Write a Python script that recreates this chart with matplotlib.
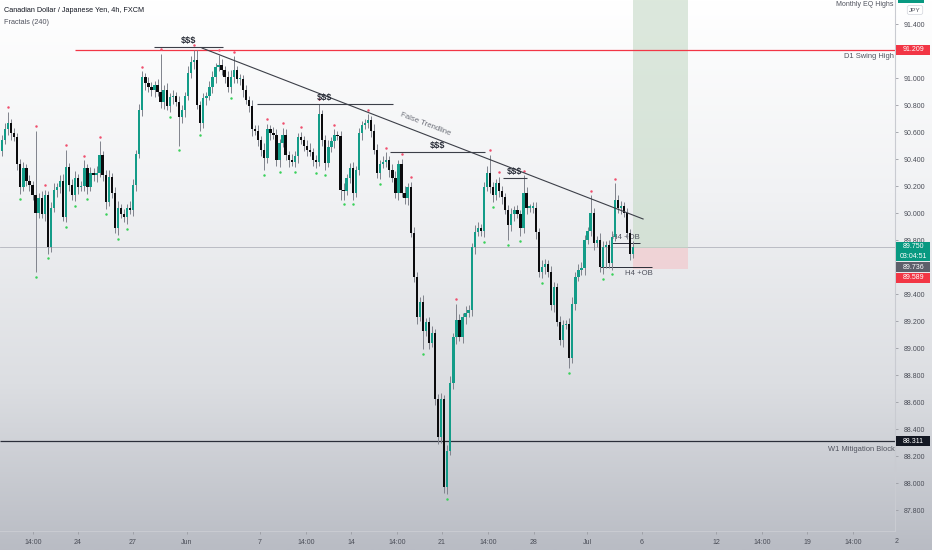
import numpy as np
import matplotlib
matplotlib.use("Agg")
import matplotlib.pyplot as plt
from matplotlib.colors import LinearSegmentedColormap
from matplotlib.patches import Rectangle
from matplotlib.transforms import blended_transform_factory

# ---------------- data (CAD/JPY 4h) ----------------
first_open = 90.46
close = [
    90.54, 90.62, 90.67, 90.59, 90.56, 90.36, 90.19, 90.33, 90.24, 90.21,
    90.13, 90.00, 90.11, 89.99, 90.13, 89.75, 90.04, 90.17, 90.19, 90.24,
    89.97, 90.34, 90.21, 90.13, 90.26, 90.19, 90.20, 90.33, 90.19, 90.30,
    90.28, 90.30, 90.43, 90.28, 90.08, 90.27, 90.15, 89.89, 90.04, 89.99,
    89.97, 90.04, 90.02, 90.21, 90.44, 90.76, 91.01, 90.96, 90.93, 90.91,
    90.95, 90.90, 90.82, 90.91, 90.79, 90.86, 90.87, 90.82, 90.71, 90.76,
    90.87, 91.04, 91.12, 91.13, 90.80, 90.67, 90.85, 90.87, 90.93, 91.01,
    91.08, 91.10, 91.06, 91.01, 90.93, 91.01, 91.06, 90.99, 90.99, 90.91,
    90.84, 90.79, 90.62, 90.61, 90.54, 90.47, 90.41, 90.62, 90.59, 90.58,
    90.39, 90.52, 90.58, 90.43, 90.39, 90.38, 90.42, 90.56, 90.54, 90.50,
    90.47, 90.45, 90.39, 90.38, 90.73, 90.54, 90.37, 90.49, 90.53, 90.58,
    90.57, 90.17, 90.16, 90.26, 90.33, 90.15, 90.32, 90.59, 90.65, 90.67,
    90.69, 90.61, 90.47, 90.30, 90.36, 90.38, 90.39, 90.32, 90.26, 90.15,
    90.36, 90.15, 90.11, 90.19, 89.85, 89.53, 89.23, 89.34, 89.13, 89.19,
    89.04, 89.11, 88.62, 88.34, 88.62, 87.97, 88.24, 88.74, 89.08, 89.21,
    89.08, 89.23, 89.26, 89.28, 89.75, 89.86, 89.89, 89.87, 90.19, 90.30,
    90.19, 90.13, 90.22, 90.16, 90.12, 90.02, 89.91, 89.99, 90.02, 89.99,
    89.89, 90.15, 90.04, 90.04, 90.04, 89.86, 89.56, 89.60, 89.62, 89.56,
    89.32, 89.45, 89.19, 89.06, 89.17, 89.18, 88.93, 89.33, 89.53, 89.58,
    89.59, 89.80, 89.87, 90.00, 89.78, 89.80, 89.60, 89.75, 89.76, 89.63,
    89.82, 90.10, 90.04, 90.05, 90.00, 89.85, 89.70, 89.75,
]
wick_up = [
    0.04, 0.05, 0.08, 0.03, 0.04, 0.03, 0.04, 0.05, 0.03, 0.04,
    0.03, 0.48, 0.04, 0.05, 0.04, 0.03, 0.04, 0.05, 0.03, 0.04,
    0.05, 0.13, 0.03, 0.04, 0.05, 0.03, 0.04, 0.06, 0.03, 0.04,
    0.03, 0.05, 0.10, 0.03, 0.04, 0.05, 0.03, 0.04, 0.05, 0.03,
    0.04, 0.03, 0.05, 0.04, 0.03, 0.05, 0.04, 0.03, 0.05, 0.04,
    0.03, 0.04, 0.28, 0.04, 0.05, 0.03, 0.04, 0.03, 0.05, 0.04,
    0.03, 0.05, 0.04, 0.08, 0.08, 0.03, 0.04, 0.03, 0.05, 0.04,
    0.03, 0.07, 0.04, 0.03, 0.04, 0.05, 0.10, 0.03, 0.04, 0.03,
    0.04, 0.03, 0.05, 0.03, 0.04, 0.03, 0.05, 0.04, 0.03, 0.05,
    0.04, 0.03, 0.05, 0.04, 0.03, 0.05, 0.04, 0.03, 0.04, 0.03,
    0.04, 0.05, 0.03, 0.04, 0.08, 0.03, 0.04, 0.05, 0.03, 0.04,
    0.03, 0.04, 0.05, 0.03, 0.04, 0.05, 0.03, 0.04, 0.03, 0.03,
    0.04, 0.03, 0.05, 0.04, 0.03, 0.04, 0.06, 0.03, 0.04, 0.05,
    0.03, 0.04, 0.05, 0.03, 0.04, 0.05, 0.03, 0.04, 0.05, 0.03,
    0.04, 0.05, 0.03, 0.04, 0.05, 0.03, 0.04, 0.05, 0.03, 0.12,
    0.04, 0.03, 0.05, 0.04, 0.03, 0.05, 0.04, 0.03, 0.04, 0.05,
    0.13, 0.04, 0.03, 0.05, 0.04, 0.03, 0.04, 0.05, 0.03, 0.04,
    0.03, 0.13, 0.04, 0.03, 0.04, 0.04, 0.03, 0.05, 0.04, 0.03,
    0.05, 0.04, 0.03, 0.05, 0.04, 0.03, 0.04, 0.05, 0.03, 0.04,
    0.05, 0.04, 0.03, 0.13, 0.04, 0.03, 0.05, 0.04, 0.03, 0.04,
    0.05, 0.12, 0.03, 0.04, 0.03, 0.04, 0.03, 0.04,
]
wick_dn = [
    0.04, 0.03, 0.04, 0.05, 0.03, 0.04, 0.05, 0.03, 0.04, 0.05,
    0.03, 0.44, 0.04, 0.03, 0.05, 0.05, 0.04, 0.03, 0.05, 0.04,
    0.03, 0.04, 0.05, 0.03, 0.04, 0.05, 0.03, 0.04, 0.05, 0.03,
    0.04, 0.05, 0.03, 0.04, 0.05, 0.03, 0.04, 0.04, 0.05, 0.03,
    0.04, 0.05, 0.03, 0.04, 0.05, 0.03, 0.04, 0.05, 0.03, 0.04,
    0.05, 0.03, 0.04, 0.05, 0.03, 0.04, 0.05, 0.03, 0.21, 0.04,
    0.05, 0.03, 0.04, 0.05, 0.03, 0.06, 0.04, 0.05, 0.03, 0.04,
    0.05, 0.03, 0.04, 0.05, 0.03, 0.04, 0.05, 0.03, 0.04, 0.05,
    0.03, 0.04, 0.05, 0.03, 0.04, 0.05, 0.09, 0.04, 0.05, 0.03,
    0.04, 0.05, 0.03, 0.04, 0.05, 0.03, 0.04, 0.05, 0.03, 0.04,
    0.05, 0.03, 0.04, 0.05, 0.03, 0.04, 0.05, 0.03, 0.04, 0.05,
    0.03, 0.07, 0.06, 0.03, 0.04, 0.05, 0.03, 0.04, 0.05, 0.03,
    0.04, 0.05, 0.03, 0.04, 0.05, 0.03, 0.04, 0.05, 0.03, 0.04,
    0.05, 0.03, 0.04, 0.05, 0.03, 0.04, 0.05, 0.03, 0.14, 0.04,
    0.05, 0.03, 0.04, 0.05, 0.04, 0.04, 0.05, 0.03, 0.04, 0.05,
    0.03, 0.04, 0.05, 0.03, 0.04, 0.05, 0.03, 0.04, 0.05, 0.03,
    0.04, 0.05, 0.03, 0.04, 0.05, 0.03, 0.11, 0.04, 0.05, 0.03,
    0.06, 0.04, 0.05, 0.03, 0.04, 0.05, 0.03, 0.04, 0.05, 0.03,
    0.04, 0.05, 0.03, 0.04, 0.05, 0.03, 0.08, 0.04, 0.05, 0.03,
    0.04, 0.05, 0.03, 0.04, 0.05, 0.03, 0.04, 0.05, 0.16, 0.04,
    0.05, 0.03, 0.04, 0.05, 0.03, 0.04, 0.05, 0.03,
]
x_tick_labels = ["14:00", "24", "27", "Jun", "7", "14:00", "14", "14:00", "21",
                 "14:00", "28", "Jul", "6", "12", "14:00", "19", "14:00", "2"]
price_ticks = [91.4, 91.0, 90.8, 90.6, 90.4, 90.2, 90.0, 89.8, 89.4,
               89.2, 89.0, 88.8, 88.6, 88.4, 88.2, 88.0, 87.8]
d1_swing_high = 91.209
w1_mitigation = 88.311
last_price = 89.750
bid_price = 89.736
stop_price = 89.589

# ---------------- style ----------------
GREEN = "#139c88"
BLACK = "#0b0b0d"
WICK = "#80838c"
plt.rcParams["font.family"] = ["Liberation Sans", "DejaVu Sans"]

fig = plt.figure(figsize=(9.32, 5.5), dpi=100)

# background gradient
bg = fig.add_axes([0, 0, 1, 1], zorder=-10)
cmap = LinearSegmentedColormap.from_list(
    "bg", [(0, "#ffffff"), (0.35, "#f1f2f4"), (0.7, "#dcdee2"), (1, "#b9bcc4")])
bg.imshow(np.linspace(0, 1, 256).reshape(-1, 1), aspect="auto", cmap=cmap,
          extent=[0, 1, 0, 1], origin="upper")
bg.axis("off")

ax = fig.add_axes([0, 19 / 550, 895 / 932, 531 / 550])
ax.set_facecolor("none")

c = np.array(close)
o = np.r_[first_open, c[:-1]]
hi = np.maximum(o, c) + np.array(wick_up)
lo = np.minimum(o, c) - np.array(wick_dn)
x = np.arange(len(c))
up = c >= o
cols = np.where(up, GREEN, BLACK)

ax.vlines(x, lo, hi, color=WICK, lw=0.7, zorder=3)
ax.bar(x, np.maximum(np.abs(c - o), 0.01), bottom=np.minimum(o, c), width=0.76,
       color=cols, linewidth=0, zorder=4)

# fractals (5-bar Williams)
fh, fl = [], []
for i in range(2, len(c) - 2):
    if hi[i] > max(hi[i - 2], hi[i - 1]) and hi[i] >= max(hi[i + 1], hi[i + 2]):
        fh.append(i)
    if lo[i] < min(lo[i - 2], lo[i - 1]) and lo[i] <= min(lo[i + 1], lo[i + 2]):
        fl.append(i)
fh, fl = np.array(fh), np.array(fl)
ax.scatter(fh, hi[fh] + 0.035, s=3.2, color="#f0506e", zorder=5, linewidths=0)
ax.scatter(fl, lo[fl] - 0.035, s=3.2, color="#3ad15a", zorder=5, linewidths=0)

xmin, xmax = -0.66, 292.8
ax.set_xlim(xmin, xmax)
ax.set_ylim(87.645, 91.578)

# horizontal levels
ax.hlines(d1_swing_high, 23.9, xmax, color="#f23645", lw=0.9, zorder=2)
ax.hlines(w1_mitigation, xmin, xmax, color="#2a2e39", lw=0.9, zorder=2)
ax.axhline(last_price, color="#b2b5be", lw=0.6, zorder=1)
ax.text(292.3, d1_swing_high - 0.05, "D1 Swing High", ha="right", va="center",
        fontsize=5.4, color="#50535e", zorder=6)
ax.text(292.6, w1_mitigation - 0.06, "W1 Mitigation Block", ha="right", va="center",
        fontsize=5.4, color="#50535e", zorder=6)

# position box
ax.add_patch(Rectangle((206.9, 89.741), 18.0, 3.0, fc="#c5d9c6", ec="none",
                       alpha=0.6, zorder=1))
ax.add_patch(Rectangle((206.9, stop_price), 18.0, 89.741 - stop_price,
                       fc="#f2c9cd", ec="none", alpha=0.7, zorder=1))

# trendline
ax.plot([65.6, 210.2], [91.222, 89.956], color="#3c3f48", lw=0.8, zorder=6)
ax.text(138.7, 90.655, "False Trendline", rotation=-21.2, ha="center", va="center",
        rotation_mode="anchor", fontsize=5.6, color="#6b6e78", zorder=6)

# liquidity marks
liq = [(49.8, 72.5, 91.230), (83.6, 128.2, 90.807), (127.2, 158.4, 90.452),
       (164.3, 172.1, 90.259)]
for x0, x1, y in liq:
    ax.hlines(y, x0, x1, color="#3c3f48", lw=0.8, zorder=6)
    ax.text((x0 + x1) / 2, y + 0.048, "$$$", ha="center", va="center",
            fontsize=6.6, fontweight="bold", color="#2a2e39", zorder=6)

# H4 +OB
ax.hlines(89.778, 200.0, 209.2, color="#2a2e39", lw=0.7, zorder=2)
ax.text(204.6, 89.822, "H4 +OB", ha="center", va="center", fontsize=5.6,
        color="#50535e", zorder=2)
ax.hlines(89.600, 196.0, 213.0, color="#2a2e39", lw=0.7, zorder=2)
ax.text(208.8, 89.553, "H4 +OB", ha="center", va="center", fontsize=5.6,
        color="#50535e", zorder=6)

# axes styling
for s in ["top", "left"]:
    ax.spines[s].set_visible(False)
ax.spines["right"].set_color("#c9cbd1")
ax.spines["bottom"].set_color("#c9cbd1")
ax.spines["right"].set_linewidth(0.8)
ax.spines["bottom"].set_linewidth(0.8)
ax.yaxis.tick_right()
ax.set_yticks(price_ticks)
ax.set_yticklabels([f"{p:.3f}" for p in price_ticks])
ax.tick_params(axis="y", length=2.5, width=0.6, color="#9a9ca3", pad=3.5,
               labelsize=5.0, labelcolor="#4a4d57")

tick_px = [33, 78, 133, 187, 260, 306, 351, 397, 442, 488, 534, 587, 642, 716,
           762, 807, 853, 897]
tick_idx = [(p - 2) / 3.05 for p in tick_px]
inside = [(t, l) for t, l in zip(tick_idx, x_tick_labels) if t <= xmax]
ax.set_xticks([t for t, _ in inside])
ax.set_xticklabels([l for _, l in inside])
ax.tick_params(axis="x", length=2.5, width=0.6, color="#9a9ca3", pad=3,
               labelsize=5.0, labelcolor="#4a4d57")
for t, l in zip(tick_idx, x_tick_labels):
    if t > xmax:
        ax.text(t, -0.0125, l, transform=blended_transform_factory(ax.transData, ax.transAxes),
                ha="center", va="top", fontsize=5.0, color="#4a4d57", clip_on=False)

# right-axis price labels
tr = blended_transform_factory(ax.transAxes, ax.transData)
PPX = (91.578 - 87.645) / 531.0


def label_box(yc, h_px, fc, lines):
    h = h_px * PPX
    ax.add_patch(Rectangle((1.001, yc - h / 2), 0.0385, h, transform=tr, fc=fc,
                           ec="none", clip_on=False, zorder=10))
    k = len(lines)
    for j, t in enumerate(lines):
        yy = yc + (k - 1) * 4.6 * PPX - j * 9.2 * PPX
        ax.text(1.0205, yy, t, transform=tr, ha="center", va="center",
                fontsize=5.0, color="white", clip_on=False, zorder=11)


label_box(d1_swing_high, 10, "#f23645", [f"{d1_swing_high:.3f}"])
label_box(w1_mitigation, 10, "#131722", [f"{w1_mitigation:.3f}"])
label_box(last_price - 0.035, 19, "#089981", [f"{last_price:.3f}", "03:04:51"])
label_box(bid_price - 0.136, 10, "#5d606b", [f"{bid_price:.3f}"])
label_box(stop_price - 0.07, 10, "#f23645", [f"{stop_price:.3f}"])

# header texts
fig.text(4 / 932, 1 - 11 / 550, "Canadian Dollar / Japanese Yen, 4h, FXCM",
         fontsize=5.2, color="#131722", va="center", ha="left")
fig.text(4 / 932, 1 - 22 / 550, "Fractals (240)", fontsize=5.2, color="#50535e",
         va="center", ha="left")
fig.text(915 / 932, 1 - 10 / 550, "JPY", fontsize=4.6, color="#50535e", va="center",
         ha="center", bbox=dict(boxstyle="round,pad=0.3", fc="white", ec="#d1d4dc", lw=0.5))
fig.text(893 / 932, 1 - 0.5 / 550, "Monthly EQ Highs", fontsize=5.0, color="#50535e",
         va="top", ha="right")
fig.patches.append(Rectangle((898 / 932, 1 - 2.5 / 550), 26 / 932, 4 / 550,
                             transform=fig.transFigure, fc="#089981", ec="none"))

fig.savefig("out.png", dpi=100)
